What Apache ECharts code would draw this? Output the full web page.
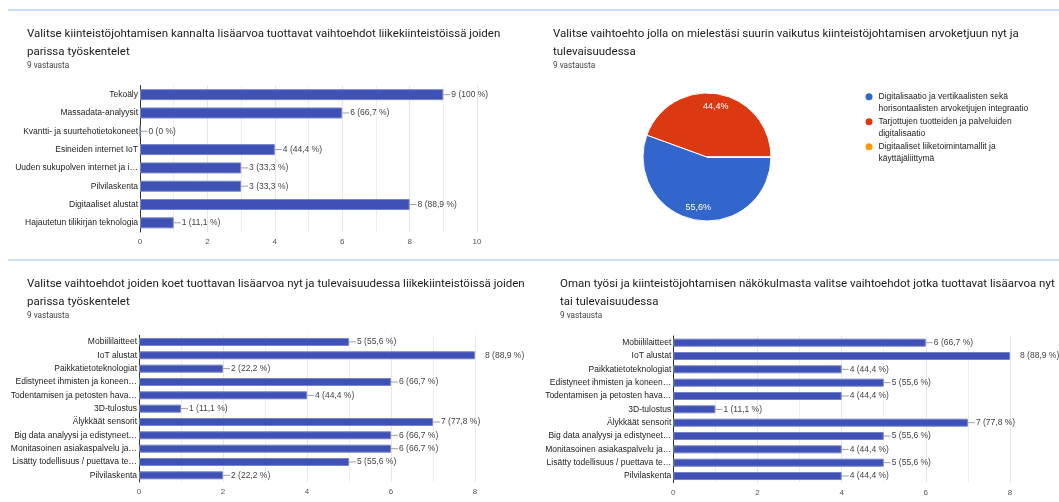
<!DOCTYPE html>
<html><head><meta charset="utf-8">
<script src="https://cdn.jsdelivr.net/npm/echarts@6/dist/echarts.min.js"></script>
<style>html,body{margin:0;padding:0;background:#fff}#c{width:1059px;height:502px}</style>
</head><body><div id="c"></div>
<script>
var respondents = 9;

var title1 = 'Valitse kiinteistöjohtamisen kannalta lisäarvoa tuottavat vaihtoehdot liikekiinteistöissä joiden\nparissa työskentelet';
var cats1 = ['Tekoäly','Massadata-analyysit','Kvantti- ja suurtehotietokoneet','Esineiden internet IoT','Uuden sukupolven internet ja i…','Pilvilaskenta','Digitaaliset alustat','Hajautetun tilikirjan teknologia'];
var vals1 = [9,6,0,4,3,3,8,1];

var title2 = 'Valitse vaihtoehto jolla on mielestäsi suurin vaikutus kiinteistöjohtamisen arvoketjuun nyt ja\ntulevaisuudessa';
var pieNames = ['Digitalisaatio ja vertikaalisten sekä\nhorisontaalisten arvoketjujen integraatio','Tarjottujen tuotteiden ja palveluiden\ndigitalisaatio','Digitaaliset liiketoimintamallit ja\nkäyttäjäliittymä'];
var pieVals = [5,4,0];
var pieColors = ['#3366cc','#dc3912','#ff9900'];

var title3 = 'Valitse vaihtoehdot joiden koet tuottavan lisäarvoa nyt ja tulevaisuudessa liikekiinteistöissä joiden\nparissa työskentelet';
var cats3 = ['Mobiililaitteet','IoT alustat','Paikkatietoteknologiat','Edistyneet ihmisten ja koneen…','Todentamisen ja petosten hava…','3D-tulostus','Älykkäät sensorit','Big data analyysi ja edistyneet…','Monitasoinen asiakaspalvelu ja…','Lisätty todellisuus / puettava te…','Pilvilaskenta'];
var vals3 = [5,8,2,6,4,1,7,6,6,5,2];

var title4 = 'Oman työsi ja kiinteistöjohtamisen näkökulmasta valitse vaihtoehdot jotka tuottavat lisäarvoa nyt\ntai tulevaisuudessa';
var cats4 = cats3.slice();
var vals4 = [6,8,4,5,4,1,7,5,4,5,4];

var subtitle = '9 vastausta';
var axisMax = [10, 8, 8];

function pct(v){ var p = Math.round(v/respondents*1000)/10; return String(p).replace('.', ','); }
function barData(vals, max){
  return vals.map(function(v){
    if (v === max) {
      return {value: v, label: {distance: 10, formatter: v + ' (' + pct(v) + ' %)'}};
    }
    return {value: v};
  });
}
var lbl = {
  show: true, position: 'right', distance: 0,
  formatter: function(p){ return '{l|}{t|' + p.value + ' (' + pct(p.value) + ' %)}'; },
  rich: {
    l: {width: 7, height: 1, backgroundColor: '#9e9e9e'},
    t: {fontSize: 8.5, color: '#444', fontFamily: 'Liberation Sans, Arial', padding: [0,0,0,1]}
  },
  fontSize: 8.5, color: '#444', fontFamily: 'Liberation Sans, Arial'
};
function xAx(gi, max){
  return {
    gridIndex: gi, type: 'value', min: 0, max: max, interval: 2,
    axisLine: {show: false}, axisTick: {show: false},
    axisLabel: {fontSize: 8, color: '#555', margin: 6, fontFamily: 'Liberation Sans, Arial'},
    splitLine: {show: true, lineStyle: {color: '#e6e6e6', width: 1}},
    minorTick: {show: false, splitNumber: 2},
    minorSplitLine: {show: true, lineStyle: {color: '#eeeeee', width: 1}}
  };
}
function yAx(gi, cats){
  return {
    gridIndex: gi, type: 'category', data: cats, inverse: true,
    axisLine: {show: true, lineStyle: {color: '#333', width: 1}},
    axisTick: {show: false},
    axisLabel: {fontSize: 8.5, color: '#222', margin: 2, fontFamily: 'Liberation Sans, Arial'}
  };
}
var barStyle = {color: '#3f51b5', borderColor: '#7884c8', borderWidth: 1};
var tStyle = {fontFamily: 'Roboto', fontSize: 11.5, fontWeight: 'normal', color: '#202124', lineHeight: 17.5};
var sStyle = {fontFamily: 'Roboto', fontSize: 8.2, fontWeight: 'normal', color: '#444', lineHeight: 10};

var chart = echarts.init(document.getElementById('c'), null, {renderer: 'canvas'});
chart.setOption({
  animation: false,
  backgroundColor: '#fff',
  title: [
    {text: title1, left: 27, top: 25.5, padding: 0, textStyle: tStyle},
    {text: subtitle, left: 27, top: 61, padding: 0, textStyle: sStyle},
    {text: title2, left: 553, top: 25.5, padding: 0, textStyle: tStyle},
    {text: subtitle, left: 553, top: 61, padding: 0, textStyle: sStyle},
    {text: title3, left: 27, top: 275.5, padding: 0, textStyle: tStyle},
    {text: subtitle, left: 27, top: 311, padding: 0, textStyle: sStyle},
    {text: title4, left: 560, top: 275.5, padding: 0, textStyle: tStyle},
    {text: subtitle, left: 560, top: 311, padding: 0, textStyle: sStyle}
  ],
  graphic: [
    {type: 'line', shape: {x1: 8, y1: 10, x2: 1059, y2: 10}, style: {stroke: '#97b9ee', lineWidth: 1}},
    {type: 'line', shape: {x1: 8, y1: 260, x2: 1059, y2: 260}, style: {stroke: '#d0def5', lineWidth: 2}}
  ],
  grid: [
    {left: 140, top: 85.5, width: 337, height: 146.5},
    {left: 139, top: 335.3, width: 336, height: 146.7},
    {left: 673.3, top: 336, width: 336.7, height: 146.7}
  ],
  xAxis: [xAx(0, axisMax[0]), xAx(1, axisMax[1]), xAx(2, axisMax[2])],
  yAxis: [yAx(0, cats1), yAx(1, cats3), yAx(2, cats4)],
  legend: {
    orient: 'vertical', left: 863.5, top: 79.5, padding: 0, itemWidth: 9, itemHeight: 9, itemGap: -9.5,
    icon: 'circle', data: pieNames.slice(),
    formatter: function(name){ return '\n' + name; },
    textStyle: {fontSize: 8.5, color: '#222', fontFamily: 'Liberation Sans, Arial', lineHeight: 11.5}
  },
  series: [
    {type: 'bar', xAxisIndex: 0, yAxisIndex: 0, data: barData(vals1, axisMax[0]), barWidth: '60%', itemStyle: barStyle, label: lbl},
    {type: 'bar', xAxisIndex: 1, yAxisIndex: 1, data: barData(vals3, axisMax[1]), barWidth: '60%', itemStyle: barStyle, label: lbl},
    {type: 'bar', xAxisIndex: 2, yAxisIndex: 2, data: barData(vals4, axisMax[2]), barWidth: '60%', itemStyle: barStyle, label: lbl},
    {type: 'pie', center: [707, 157], radius: [0, 64], startAngle: 0, clockwise: true,
     data: pieNames.map(function(n, i){ return {name: n, value: pieVals[i], itemStyle: {color: pieColors[i]}}; }),
     itemStyle: {borderColor: '#fff', borderWidth: 1},
     label: {show: false}, labelLine: {show: false}},
    {type: 'pie', center: [707, 157], radius: [32, 64], startAngle: 0, clockwise: true, silent: true,
     data: pieNames.map(function(n, i){ return {name: n, value: pieVals[i]}; }),
     itemStyle: {color: 'rgba(0,0,0,0)'},
     label: {show: true, position: 'inside', fontSize: 9, color: '#fff', fontFamily: 'Liberation Sans, Arial',
       formatter: function(p){ return p.value ? String(Math.round(p.percent*10)/10).replace('.', ',') + '%' : ''; }},
     labelLine: {show: false}}
  ]
});
</script></body></html>
